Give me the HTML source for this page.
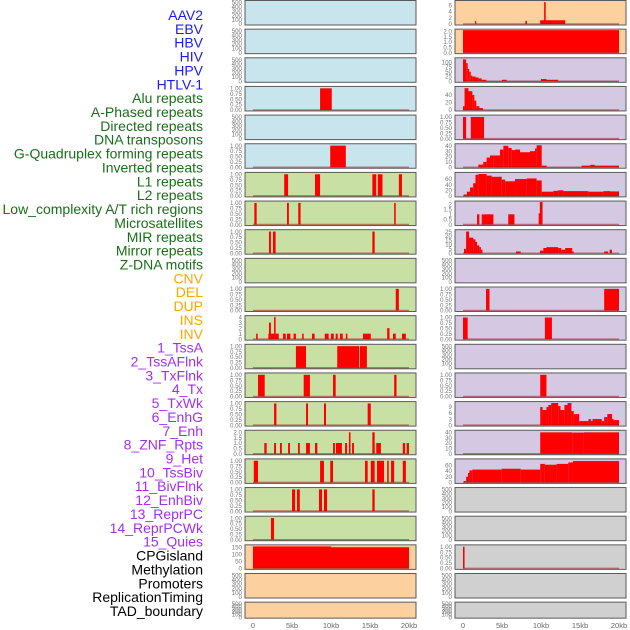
<!DOCTYPE html>
<html><head><meta charset="utf-8"><style>
html,body{margin:0;padding:0;background:#fff;width:630px;height:630px;overflow:hidden}
svg{display:block;font-family:"Liberation Sans",sans-serif}
</style></head><body>
<svg id="chart" width="630" height="630" viewBox="0 0 630 630"></svg>
<script>
const labels=["AAV2","EBV","HBV","HIV","HPV","HTLV-1","Alu repeats","A-Phased repeats","Directed repeats","DNA transposons","G-Quadruplex forming repeats","Inverted repeats","L1 repeats","L2 repeats","Low_complexity A/T rich regions","Microsatellites","MIR repeats","Mirror repeats","Z-DNA motifs","CNV","DEL","DUP","INS","INV","1_TssA","2_TssAFlnk","3_TxFlnk","4_Tx","5_TxWk","6_EnhG","7_Enh","8_ZNF_Rpts","9_Het","10_TssBiv","11_BivFlnk","12_EnhBiv","13_ReprPC","14_ReprPCWk","15_Quies","CPGisland","Methylation","Promoters","ReplicationTiming","TAD_boundary"];
const labelColors=["#1a1aff","#1a1aff","#1a1aff","#1a1aff","#1a1aff","#1a1aff","#1a6e1a","#1a6e1a","#1a6e1a","#1a6e1a","#1a6e1a","#1a6e1a","#1a6e1a","#1a6e1a","#1a6e1a","#1a6e1a","#1a6e1a","#1a6e1a","#1a6e1a","#ffa500","#ffa500","#ffa500","#ffa500","#ffa500","#a030f0","#a030f0","#a030f0","#a030f0","#a030f0","#a030f0","#a030f0","#a030f0","#a030f0","#a030f0","#a030f0","#a030f0","#a030f0","#a030f0","#a030f0","#000","#000","#000","#000","#000"];
const xTicks=[0,5,10,15,20];
const xTickLabels=["0","5kb","10kb","15kb","20kb"];
const T01=[0,0.25,0.5,0.75,1];
const TE=[0,100,200,300,400,500];
const T2=[0,0.5,1,1.5,2];
// left column panels: [bg, ymax, ticks, bars [start,end,value]]
const leftPanels=[
["#c8e4ec",520,TE,null],
["#c8e4ec",520,TE,null],
["#c8e4ec",520,TE,null],
["#c8e4ec",1.04,T01,[[8.6,10.1,1]]],
["#c8e4ec",520,TE,null],
["#c8e4ec",1.04,T01,[[9.9,11.9,1]]],
["#c8e0a4",1.04,T01,[[4.0,4.5,1],[7.95,8.6,1],[15.3,15.8,1],[16.0,16.6,1],[18.7,19.1,1]]],
["#c8e0a4",1.04,T01,[[0.17,0.47,1],[4.36,4.6,1],[5.8,6.1,1],[18.1,18.3,1]]],
["#c8e0a4",1.04,T01,[[2.05,2.3,1],[2.56,2.9,1],[15.3,15.6,1]]],
["#c8e0a4",520,TE,null],
["#c8e0a4",1.04,T01,[[18.3,18.7,1]]],
["#c8e0a4",4.1,[0,1,2,3,4],[[0.4,0.6,1],[1.97,2.2,1],[2.05,2.3,3],[2.3,2.7,1],[2.7,2.9,4],[2.9,3.3,1],[3.85,4.2,1],[4.36,4.8,1],[5.2,5.5,1],[6.3,6.5,1],[7.56,7.9,1],[9.2,9.7,1],[10.0,10.35,1],[10.6,10.86,1],[11.15,11.5,1],[11.9,12.1,1],[14.1,15.1,1],[17.2,17.5,2],[17.95,18.3,1],[19.1,19.6,1]]],
["#c8e0a4",1.04,T01,[[5.5,6.8,1],[10.8,13.6,1],[13.7,14.6,1]]],
["#c8e0a4",1.04,T01,[[0.64,1.5,1],[6.5,7.3,1],[10.26,10.6,1],[18.1,18.4,1]]],
["#c8e0a4",1.04,T01,[[2.7,3.0,1],[6.8,7.05,1],[9.1,9.36,1],[14.7,15.1,1]]],
["#c8e0a4",2.1,T2,[[1.45,1.75,1],[2.7,2.95,1],[3.46,3.7,1],[4.5,4.74,1],[5.77,6.0,1],[6.8,7.3,1],[7.95,8.25,1],[10.26,10.5,1],[10.64,11.4,1],[11.8,12.05,1],[12.3,12.5,2],[12.7,12.95,1],[15.3,15.6,2],[15.8,16.4,1],[19.2,19.5,1],[19.7,20,1]]],
["#c8e0a4",1.04,T01,[[0.1,0.64,1],[8.6,9.1,1],[9.9,10.26,1],[14.36,14.7,1],[15.1,15.6,1],[15.9,16.8,1],[17.2,17.4,1],[17.7,18.1,1],[19.2,19.6,1]]],
["#c8e0a4",1.04,T01,[[5.0,5.4,1],[5.64,6.0,1],[8.46,8.85,1],[9.1,9.5,1],[15.3,15.6,1]]],
["#c8e0a4",1.04,T01,[[2.3,2.7,1]]],
["#fdd0a0",160,[0,50,100,150],[[0,10,156],[10,20,150]]],
["#fdd0a0",520,TE,null],
["#fdd0a0",520,TE,null]
];
const rightPanels=[
["#fdd0a0",7.2,[0,2,4,6],[[1.55,1.7,1],[8.0,8.2,1],[9.9,13.1,1.2],[10.4,10.6,7]]].concat([]),
["#fdd0a0",2.1,T2,[[0,20,2.1]]],
["#d5c8e2",118,[0,25,50,75,100],[[0,0.4,115],[0.4,0.6,95],[0.6,0.8,65],[0.8,1.0,50],[1.0,1.2,30],[1.2,1.6,25],[1.6,2.0,20],[2.0,2.4,15],[2.4,3.0,8],[3.0,5.0,2],[5.0,5.6,8],[5.6,10,2],[10,10.7,12],[10.7,12.2,8],[12.2,20,2]]],
["#d5c8e2",60,[0,20,40],[[0,0.2,10],[0.2,0.7,58],[0.7,1.2,50],[1.2,1.45,40],[1.45,1.7,25],[1.7,2.1,10],[2.1,2.55,5]]],
["#d5c8e2",1.04,T01,[[0,0.4,1],[1.0,2.7,1]]],
["#d5c8e2",42,[0,10,20,30,40],[[1.97,2.6,5],[2.6,3.03,10],[3.03,3.46,18],[3.46,3.89,22],[3.89,4.74,22],[4.74,5.17,33],[5.17,5.81,40],[5.81,6.24,36],[6.24,6.67,32],[6.67,7.31,33],[7.31,8.59,28],[8.59,9.23,30],[9.23,9.44,35],[9.44,10.09,41],[10.09,10.73,3],[10.73,15.2,0.5],[15.2,16.3,3],[16.3,16.9,4.5],[16.9,20,3]]],
["#d5c8e2",80,[0,20,40,60],[[0.1,0.5,5],[0.5,0.9,15],[0.9,1.3,30],[1.3,1.6,45],[1.6,1.97,75],[1.97,3.03,78],[3.03,3.67,72],[3.67,4.96,68],[4.96,5.4,58],[5.4,6.67,52],[6.67,8.16,60],[8.16,9.44,62],[9.44,10.09,55],[10.09,11.58,15],[11.58,12.2,18],[12.2,12.87,20],[12.87,16.07,17],[16.07,18,15],[18,18.85,17],[18.85,20,16]]],
["#d5c8e2",2.2,[0,0.5,1,1.5,2],[[1.8,2.1,1],[2.4,3.9,1],[5.8,6.6,1],[9.7,9.95,1.1],[9.85,10.2,2.2]]],
["#d5c8e2",26,[0,5,10,15,20,25],[[0.13,0.4,5],[0.4,0.77,25],[0.77,1.33,18],[1.33,1.6,16],[1.6,1.8,13],[1.8,2.1,9],[2.1,2.3,7],[2.3,2.5,4],[6.8,7.4,2],[9.87,10.3,3],[10.3,10.7,6],[10.7,12.2,7],[12.2,12.6,6],[12.6,13.1,4],[13.1,14.0,6],[14.0,14.2,2],[18.1,18.6,2],[18.8,19.1,4]]],
["#d5c8e2",520,TE,null],
["#d5c8e2",1.04,T01,[[2.95,3.4,1],[18.1,20,1]]],
["#d5c8e2",1.04,T01,[[0,0.6,1],[10.5,11.4,1]]],
["#d5c8e2",520,TE,null],
["#d5c8e2",1.04,T01,[[9.9,10.7,1]]],
["#d5c8e2",11.2,[0,3,6,9],[[9.9,10.2,9],[10.2,10.7,7.5],[10.7,10.95,9],[10.95,11.3,10],[11.3,12.2,11],[12.2,12.5,9.5],[12.5,13.0,7.5],[13.0,13.4,10],[13.4,13.9,11],[13.9,14.2,7],[14.2,14.9,5.5],[14.9,16.1,2],[16.1,16.4,3],[16.4,16.6,2],[16.6,17.8,3],[17.8,18.1,2],[18.1,18.5,4],[18.5,19.1,5.5],[19.1,19.3,3],[19.3,20,2.5]]],
["#d5c8e2",42,[0,10,20,30,40],[[9.9,14,40],[14,15.5,39.5],[15.5,20,40]]],
["#d5c8e2",79,[0,20,40,60],[[0.1,0.4,5],[0.4,0.64,20],[0.64,0.82,33],[0.82,1.2,42],[1.2,4.96,45],[4.96,7.4,48],[7.4,9.9,45],[9.9,10.5,65],[10.5,12.0,62],[12.0,13.5,65],[13.5,14.1,70],[14.1,20,75]]],
["#d0d0d0",520,TE,null],
["#d0d0d0",520,TE,null],
["#d0d0d0",1.04,T01,[[0,0.2,1]]],
["#d0d0d0",520,TE,null],
["#d0d0d0",520,TE,null]
];
const NS="http://www.w3.org/2000/svg";
const svg=document.getElementById('chart');
function mk(tag,attrs,parent){const e=document.createElementNS(NS,tag);for(const k in attrs)e.setAttribute(k,attrs[k]);(parent||svg).appendChild(e);return e;}
// labels
labels.forEach((t,i)=>{
  const e=mk('text',{x:203,y:15+13.86*i+5,'text-anchor':'end','font-size':14,fill:labelColors[i]});
  
  
  e.textContent=t;
});
function rowTop(i){return 0.5+28.65*i;}
function rowH(i){return i===21?16:24.5;}
function drawPanel(p,i,x0,side){
  const [bg,ymax,ticks,bars]=p;
  const top=rowTop(i),h=rowH(i),w=171;
  const xs=kb=>x0+8+kb*7.8;
  const ys=v=>top+h-1-(v/ymax)*(h-2);
  const g=mk('g',{});
  
  
  mk('rect',{x:x0,y:top,width:w,height:h,fill:bg},g);
  if(bars){
    bars.forEach(b=>{
      const r=mk('rect',{x:xs(b[0]),y:ys(b[2]),width:Math.max(0.8,xs(b[1])-xs(b[0])),height:ys(0)-ys(b[2]),fill:'#ff0000'},g);
      
      
    });
    mk('line',{x1:xs(0),x2:xs(20),y1:ys(0),y2:ys(0),stroke:'rgba(150,20,20,0.5)','stroke-width':1.5},g);
  }
  mk('rect',{x:x0,y:top,width:w,height:h,fill:'none',stroke:'#5a5a5a','stroke-width':1},g);
  ticks.forEach(t=>{
    const lbl=(ticks===T01)?t.toFixed(2):(ticks===T2?t.toFixed(1):String(t));
    const e=mk('text',{x:x0-3,y:ys(t)+2.2,'text-anchor':'end','font-size':6.2,fill:'#777'},g);
    
    
    e.textContent=lbl;
  });
}
leftPanels.forEach((p,i)=>drawPanel(p,i,245,'left'));
rightPanels.forEach((p,i)=>drawPanel(p,i,455,'right'));
[245,455].forEach(x0=>{
  xTicks.forEach((t,j)=>{
    const e=mk('text',{x:x0+8+t*7.8,y:628,'text-anchor':'middle','font-size':7.5,fill:'#666'});
    
    
    e.textContent=xTickLabels[j];
  });
});
</script>
</body></html>
